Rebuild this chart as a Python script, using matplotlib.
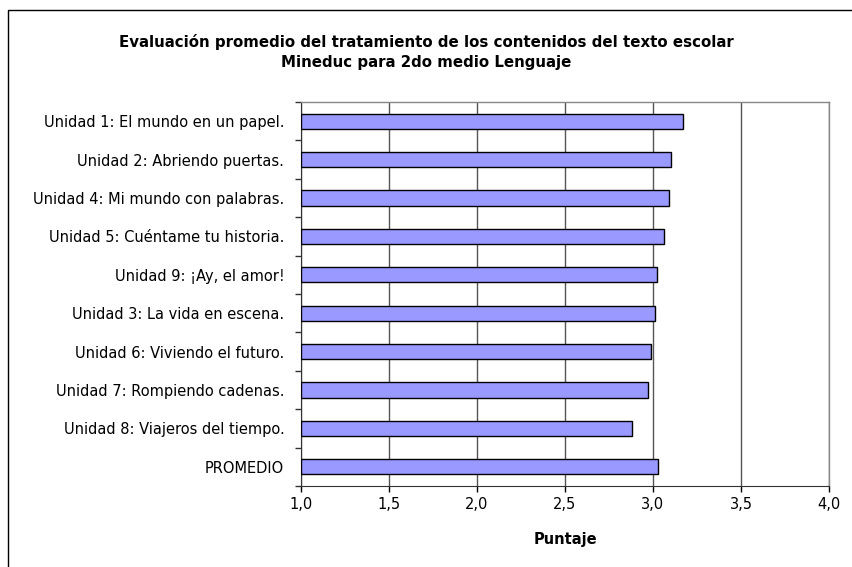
import matplotlib
matplotlib.use("Agg")
import matplotlib.pyplot as plt
from matplotlib.patches import Rectangle
from matplotlib.ticker import FuncFormatter, FixedLocator

categories = [
    "Unidad 1: El mundo en un papel.",
    "Unidad 2: Abriendo puertas.",
    "Unidad 4: Mi mundo con palabras.",
    "Unidad 5: Cuéntame tu historia.",
    "Unidad 9: ¡Ay, el amor!",
    "Unidad 3: La vida en escena.",
    "Unidad 6: Viviendo el futuro.",
    "Unidad 7: Rompiendo cadenas.",
    "Unidad 8: Viajeros del tiempo.",
    "PROMEDIO",
]
values = [3.17, 3.10, 3.09, 3.06, 3.02, 3.01, 2.99, 2.97, 2.88, 3.03]
xticks = [1.0, 1.5, 2.0, 2.5, 3.0, 3.5, 4.0]
title = "Evaluación promedio del tratamiento de los contenidos del texto escolar\nMineduc para 2do medio Lenguaje"
xlabel = "Puntaje"

W, H = 853, 567
fig = plt.figure(figsize=(W/100, H/100), dpi=100)
fig.patch.set_facecolor("white")

# outer border
fig.patches.append(Rectangle((8/W, -0.1), 1.0, (H-10)/H + 0.1, transform=fig.transFigure,
                             fill=False, edgecolor="black", linewidth=1.0))

left, right, top, bottom = 301, 829, 102, 486
ax = fig.add_axes([left/W, 1-bottom/H, (right-left)/W, (bottom-top)/H])

n = len(categories)
ypos = list(range(n))
ax.barh(ypos, [v - 1.0 for v in values], left=1.0, height=0.4,
        color="#9999ff", edgecolor="black", linewidth=1.0, zorder=3)

ax.set_xlim(1.0, 4.0)
ax.set_ylim(n - 0.5, -0.5)
ax.xaxis.set_major_locator(FixedLocator(xticks))
ax.xaxis.set_major_formatter(FuncFormatter(lambda v, p: f"{v:.1f}".replace(".", ",")))
ax.grid(axis="x", color="#555555", linewidth=1.0, zorder=0)

ax.set_yticks(ypos)
ax.set_yticklabels(categories)
ax.set_yticks([i - 0.5 for i in range(n + 1)], minor=True)
ax.tick_params(axis="y", which="major", length=0, pad=12, labelsize=10.5)
ax.tick_params(axis="y", which="minor", length=4, width=1, color="#333333")
ax.tick_params(axis="x", length=4, width=1, direction="out", labelsize=10.5, pad=4)

for s in ["top", "right"]:
    ax.spines[s].set_color("#888888")
    ax.spines[s].set_linewidth(1.0)
ax.spines["left"].set_color("#333333")
ax.spines["bottom"].set_color("#333333")

ax.set_xlabel(xlabel, fontsize=10.5, fontweight="bold", labelpad=14)

fig.text(426/W, 1 - 52/H, title, ha="center", va="center", fontsize=10.8,
         fontweight="bold", linespacing=1.5)

fig.savefig("out.png", dpi=100)
